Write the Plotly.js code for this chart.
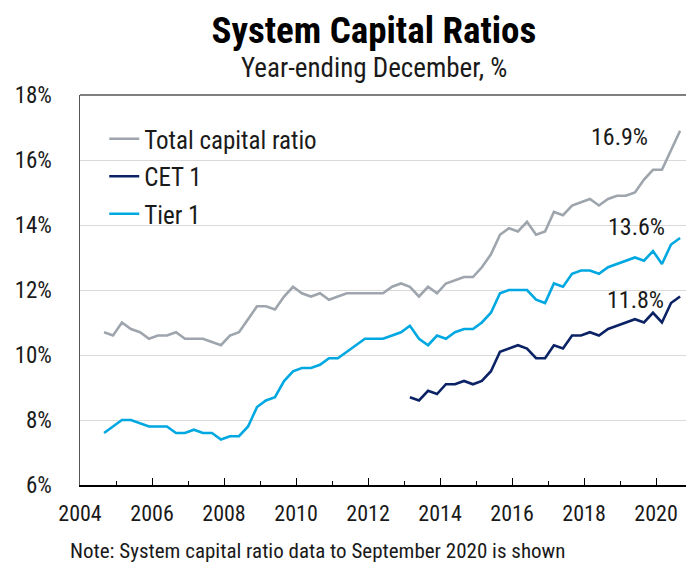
<!DOCTYPE html>
<html>
<head>
<meta charset="utf-8">
<script src="https://cdn.plot.ly/plotly-3.0.1.min.js"></script>
<style>
  html, body { margin: 0; padding: 0; background: #fff; }
  #chart { width: 686px; height: 563px; }
</style>
</head>
<body>
<div id="chart"></div>
<script>
// Quarterly observations (Sep 2004 - Sep 2020)
const dates = [
  "2004-09","2004-12",
  "2005-03","2005-06","2005-09","2005-12",
  "2006-03","2006-06","2006-09","2006-12",
  "2007-03","2007-06","2007-09","2007-12",
  "2008-03","2008-06","2008-09","2008-12",
  "2009-03","2009-06","2009-09","2009-12",
  "2010-03","2010-06","2010-09","2010-12",
  "2011-03","2011-06","2011-09","2011-12",
  "2012-03","2012-06","2012-09","2012-12",
  "2013-03","2013-06","2013-09","2013-12",
  "2014-03","2014-06","2014-09","2014-12",
  "2015-03","2015-06","2015-09","2015-12",
  "2016-03","2016-06","2016-09","2016-12",
  "2017-03","2017-06","2017-09","2017-12",
  "2018-03","2018-06","2018-09","2018-12",
  "2019-03","2019-06","2019-09","2019-12",
  "2020-03","2020-06","2020-09"
];

const totalCapital = [
  10.7,10.6,11.0,10.8,10.7,10.5,10.6,10.6,10.7,10.5,
  10.5,10.5,10.4,10.3,10.6,10.7,11.1,11.5,11.5,11.4,
  11.8,12.1,11.9,11.8,11.9,11.7,11.8,11.9,11.9,11.9,
  11.9,11.9,12.1,12.2,12.1,11.8,12.1,11.9,12.2,12.3,
  12.4,12.4,12.7,13.1,13.7,13.9,13.8,14.1,13.7,13.8,
  14.4,14.3,14.6,14.7,14.8,14.6,14.8,14.9,14.9,15.0,
  15.4,15.7,15.7,16.3,16.9
];

const tier1 = [
  7.6,7.8,8.0,8.0,7.9,7.8,7.8,7.8,7.6,7.6,
  7.7,7.6,7.6,7.4,7.5,7.5,7.8,8.4,8.6,8.7,
  9.2,9.5,9.6,9.6,9.7,9.9,9.9,10.1,10.3,10.5,
  10.5,10.5,10.6,10.7,10.9,10.5,10.3,10.6,10.5,10.7,
  10.8,10.8,11.0,11.3,11.9,12.0,12.0,12.0,11.7,11.6,
  12.2,12.1,12.5,12.6,12.6,12.5,12.7,12.8,12.9,13.0,
  12.9,13.2,12.8,13.4,13.6
];

// CET 1 series begins March 2013
const cet1Dates = dates.slice(34);
const cet1 = [
  8.7,8.6,8.9,8.8,9.1,9.1,9.2,9.1,9.2,9.5,
  10.1,10.2,10.3,10.2,9.9,9.9,10.3,10.2,10.6,10.6,
  10.7,10.6,10.8,10.9,11.0,11.1,11.0,11.3,11.0,11.6,
  11.8
];

const seriesNames = ["Total capital ratio", "CET 1", "Tier 1"];
const yTicks = [6, 8, 10, 12, 14, 16, 18];

const FONT = "'Roboto Condensed', 'DejaVu Sans Condensed', 'Liberation Sans Narrow', Roboto, sans-serif";
const TXT = "#1a1a1a";
const C_TOTAL = "#9EA5AD";
const C_CET = "#0B2265";
const C_TIER = "#00A8E1";

const traces = [
  { x: dates, y: totalCapital, name: seriesNames[0], legendgroup: "a", type: "scatter", mode: "lines",
    line: { color: C_TOTAL, width: 2.6 } },
  { x: cet1Dates, y: cet1, name: seriesNames[1], legendgroup: "b", type: "scatter", mode: "lines",
    line: { color: C_CET, width: 2.6 } },
  { x: dates, y: tier1, name: seriesNames[2], legendgroup: "c", type: "scatter", mode: "lines",
    line: { color: C_TIER, width: 2.6 } }
];

const layout = {
  width: 686, height: 563,
  margin: { l: 80, r: 0, t: 95, b: 78 },
  paper_bgcolor: "#fff", plot_bgcolor: "#fff",
  font: { family: FONT, color: TXT, size: 22 },
  title: { text: "<b>System Capital Ratios</b>", font: { family: FONT, size: 37, color: "#000" },
           x: 0.545, xanchor: "center", y: 0.947, yanchor: "middle", yref: "container" },
  showlegend: true,
  legend: { x: 0.04, y: 0.946, xanchor: "left", yanchor: "top", bgcolor: "rgba(0,0,0,0)",
            font: { size: 25, color: TXT }, tracegroupgap: 2, itemwidth: 30 },
  xaxis: {
    type: "date", range: ["2004-01-01", "2020-10-31"],
    tick0: "2004-01-01", dtick: "M24", tickformat: "%Y",
    ticks: "inside", ticklen: 7, tickcolor: "#000", tickwidth: 1,
    minor: { dtick: "M12", ticks: "inside", ticklen: 4, tickcolor: "#000", tickwidth: 1, showgrid: false },
    showline: true, linecolor: "#000", linewidth: 1.5,
    showgrid: false, zeroline: false, ticklabelstandoff: 8,
    tickfont: { size: 22, color: TXT }
  },
  yaxis: {
    range: [6, 18], tickvals: yTicks, ticktext: yTicks.map(v => v + "%"),
    showline: true, linecolor: "#555", linewidth: 1.5,
    showgrid: true, gridcolor: "#D9D9D9", gridwidth: 1, zeroline: false,
    ticks: "", ticklabelstandoff: 22, tickfont: { size: 23, color: TXT }
  },
  shapes: [
    { type: "line", xref: "paper", yref: "paper", x0: 0, x1: 1, y0: 1, y1: 1,
      line: { color: "#555", width: 1.5 } }
  ],
  annotations: [
    { text: "Year-ending December, %", xref: "paper", yref: "paper", x: 0.485, y: 1.069,
      xanchor: "center", yanchor: "middle", showarrow: false, font: { size: 27, color: TXT } },
    { text: "Note: System capital ratio data to September 2020 is shown", xref: "paper", yref: "paper",
      x: -0.02, y: -0.169, xanchor: "left", yanchor: "middle", showarrow: false,
      font: { size: 21, color: TXT } },
    { text: totalCapital[totalCapital.length - 1].toFixed(1) + "%", xref: "paper", yref: "y",
      x: 0.891, y: 16.71, xanchor: "center", yanchor: "middle", showarrow: false, font: { size: 24, color: TXT } },
    { text: tier1[tier1.length - 1].toFixed(1) + "%", xref: "paper", yref: "y",
      x: 0.919, y: 13.94, xanchor: "center", yanchor: "middle", showarrow: false, font: { size: 24, color: TXT } },
    { text: cet1[cet1.length - 1].toFixed(1) + "%", xref: "paper", yref: "y",
      x: 0.917, y: 11.69, xanchor: "center", yanchor: "middle", showarrow: false, font: { size: 24, color: TXT } }
  ]
};

Plotly.newPlot("chart", traces, layout, { displayModeBar: false, staticPlot: true });
</script>
</body>
</html>
